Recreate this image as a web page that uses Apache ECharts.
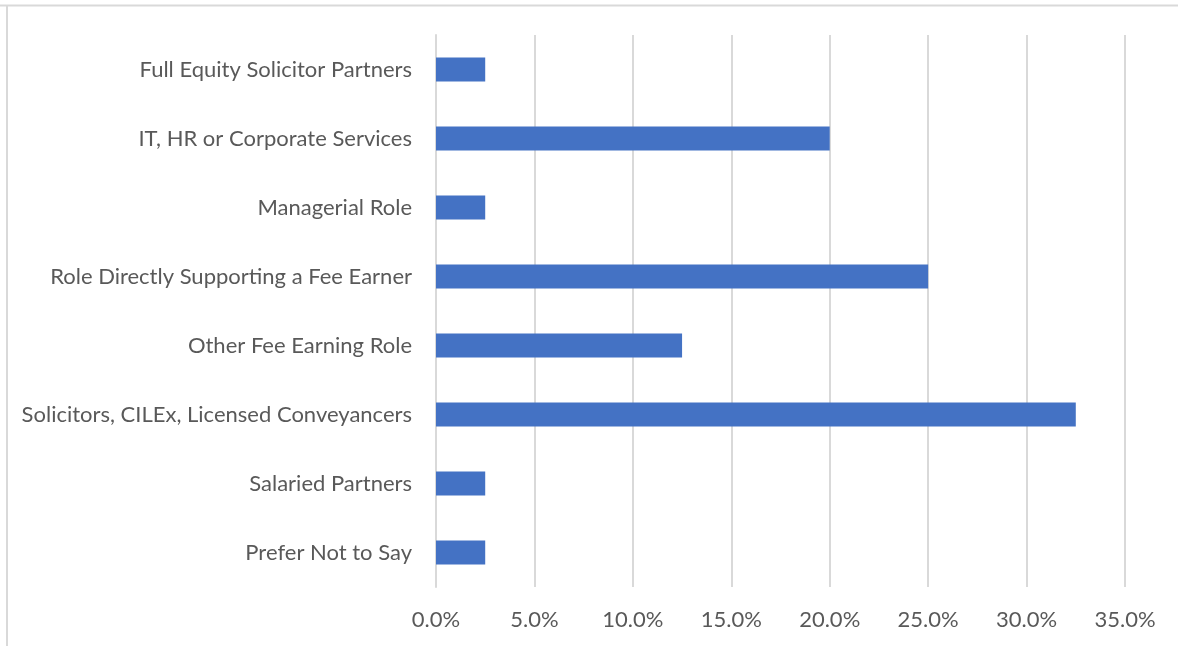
<!DOCTYPE html>
<html>
<head>
<meta charset="utf-8">
<script src="https://cdn.jsdelivr.net/npm/echarts@6/dist/echarts.min.js"></script>
<style>
  html, body { margin: 0; padding: 0; background: #fff; }
  #chart { width: 1178px; height: 646px; }
</style>
</head>
<body>
<div id="chart"></div>
<script>
// categories listed bottom to top (as the category axis draws them)
const categories = [
  'Prefer Not to Say',
  'Salaried Partners',
  'Solicitors, CILEx, Licensed Conveyancers',
  'Other Fee Earning Role',
  'Role Directly Supporting a Fee Earner',
  'Managerial Role',
  'IT, HR or Corporate Services',
  'Full Equity Solicitor Partners'
];
const shares = [2.5, 2.5, 32.5, 12.5, 25.0, 2.5, 20.0, 2.5];
const xTicks = { min: 0, max: 35, step: 5 };

const chart = echarts.init(document.getElementById('chart'));
chart.setOption({
  animation: false,
  textStyle: { fontFamily: 'Lato, sans-serif' },
  graphic: [
    { type: 'line', shape: { x1: 0, y1: 5.5, x2: 1178, y2: 5.5 }, style: { stroke: '#d9d9d9', lineWidth: 2 } },
    { type: 'line', shape: { x1: 7, y1: 5, x2: 7, y2: 646 }, style: { stroke: '#d9d9d9', lineWidth: 2 } }
  ],
  grid: { left: 436, right: 53, top: 35, bottom: 59, containLabel: false },
  xAxis: {
    type: 'value',
    min: xTicks.min,
    max: xTicks.max,
    interval: xTicks.step,
    axisLine: { show: false },
    axisTick: { show: false },
    splitLine: { lineStyle: { color: '#d9d9d9', width: 2 } },
    axisLabel: {
      color: '#595959',
      fontSize: 22,
      margin: 22,
      formatter: v => v.toFixed(1) + '%'
    }
  },
  yAxis: {
    type: 'category',
    data: categories,
    axisLine: { lineStyle: { color: '#d9d9d9', width: 2 } },
    axisTick: { show: false },
    axisLabel: { color: '#595959', fontSize: 22, margin: 24 }
  },
  series: [{
    type: 'bar',
    data: shares,
    barWidth: 24,
    itemStyle: { color: '#4472C4' }
  }]
});
</script>
</body>
</html>
